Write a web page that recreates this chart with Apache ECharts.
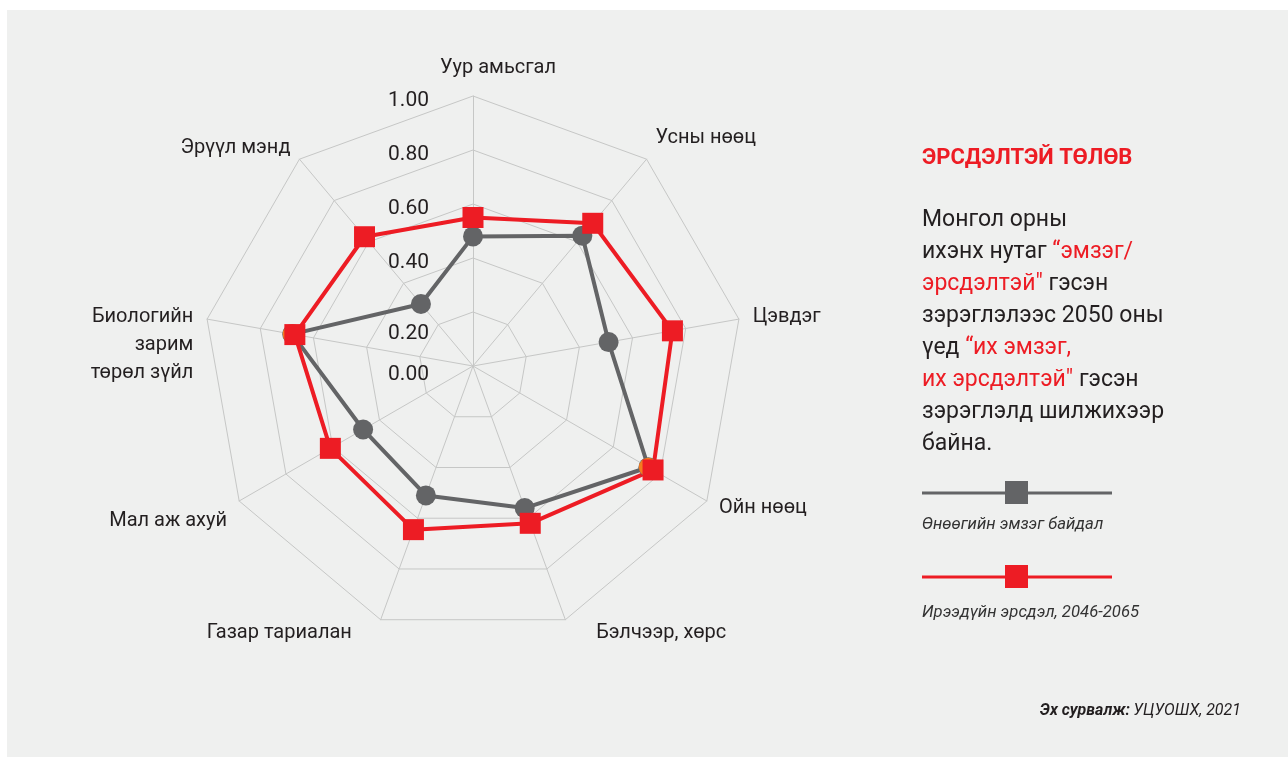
<!DOCTYPE html>
<html>
<head>
<meta charset="utf-8">
<script src="https://cdn.jsdelivr.net/npm/echarts@6/dist/echarts.min.js"></script>
<style>
  html, body { margin: 0; padding: 0; background: #fff; }
  #main { width: 1288px; height: 757px; }
</style>
</head>
<body>
<div id="main"></div>
<script>
// indicators clockwise from the top, as in the picture
const categories = ['Уур амьсгал', 'Усны нөөц', 'Цэвдэг', 'Ойн нөөц', 'Бэлчээр, хөрс', 'Газар тариалан', 'Мал аж ахуй', 'Биологийн\nзарим\nтөрөл зүйл', 'Эрүүл мэнд']
const currentValues = [0.48, 0.63, 0.51, 0.75, 0.56, 0.51, 0.47, 0.68, 0.30]
const futureValues = [0.55, 0.69, 0.75, 0.77, 0.62, 0.645, 0.61, 0.67, 0.625]
const tickLabels = ['0.00', '0.20', '0.40', '0.60', '0.80', '1.00']
const seriesNames = ['Өнөөгийн эмзэг байдал', 'Ирээдүйн эрсдэл, 2046-2065']
// current markers that show orange under the red squares
const orangeCategories = ['Ойн нөөц', 'Биологийн\nзарим\nтөрөл зүйл']

const GRAY = '#636466'
const RED = '#ED1C24'
const ORANGE = '#F47B20'
const TEXT = '#231F20'
const FONT = 'Roboto, "Noto Sans", sans-serif'

// echarts radar runs counter-clockwise, so flip the order after the first one
const order = [0, ...categories.map((_, i) => i).slice(1).reverse()]

// small nudges of the indicator names (padding top/right/bottom/left)
const namePad = {
  0: [0, 0, 0, 50],
  1: [0, 0, 20, 0],
  4: [0, 0, 0, 26],
  5: [0, 24, 0, 0],
  6: [26, 0, 0, 0],
}
const nameRich = {}
Object.keys(namePad).forEach((k) => {
  nameRich['n' + k] = { padding: namePad[k], fontSize: 20, fontFamily: FONT, color: TEXT }
})

const labelStyle = { fontSize: 21, fontFamily: FONT, color: TEXT }

const chart = echarts.init(document.getElementById('main'))

const indicator = order.map((i, k) => {
  const item = { name: categories[i], min: 0, max: 1 }
  if (k === 0) {
    item.axisLabel = {
      show: true,
      margin: 44,
      color: TEXT,
      fontSize: 21,
      fontFamily: FONT,
      formatter: (v) => {
        const s = tickLabels[Math.round(v / 0.2)]
        if (s === '0.20') return `{lo|${s}}`
        if (s === '0.00') return `{z|${s}}`
        return `{n|${s}}`
      },
      rich: {
        n: { ...labelStyle, padding: [10, 0, 0, 0] },
        lo: { ...labelStyle, padding: [44, 0, 0, 0] },
        z: { ...labelStyle, padding: [18, 0, 0, 0] },
      },
    }
  }
  return item
})

const option = {
  backgroundColor: '#fff',
  animation: false,
  radar: {
    center: [473, 366],
    radius: 270,
    startAngle: 90,
    shape: 'polygon',
    splitNumber: 5,
    indicator: indicator,
    axisName: {
      color: TEXT,
      fontSize: 20,
      fontFamily: FONT,
      lineHeight: 28,
      rich: nameRich,
      formatter: (name) => {
        const i = categories.indexOf(name)
        if (namePad[i]) return `{n${i}|${name}}`
        if (name.indexOf('\n') >= 0) return '\n\n' + name
        return name
      },
    },
    nameGap: 14,
    axisLabel: { show: false },
    axisTick: { show: false },
    axisLine: { lineStyle: { color: '#C6C7C6', width: 1 } },
    splitLine: { lineStyle: { color: '#C6C7C6', width: 1 } },
    splitArea: { show: false },
  },
  series: [
    {
      name: seriesNames[0],
      type: 'radar',
      symbol: 'circle',
      symbolSize: 20,
      lineStyle: { color: GRAY, width: 4 },
      itemStyle: { color: GRAY },
      data: [{ name: seriesNames[0], value: order.map((i) => currentValues[i]) }],
    },
    {
      // orange current markers; the other points sit under the red squares
      name: 'orange',
      type: 'radar',
      symbol: 'circle',
      symbolSize: 19,
      lineStyle: { opacity: 0, width: 0 },
      itemStyle: { color: ORANGE },
      data: [
        {
          name: 'orange',
          value: order.map((i) => (orangeCategories.includes(categories[i]) ? currentValues[i] : futureValues[i])),
        },
      ],
    },
    {
      name: seriesNames[1],
      type: 'radar',
      symbol: 'rect',
      symbolSize: 21,
      lineStyle: { color: RED, width: 4 },
      itemStyle: { color: RED },
      data: [{ name: seriesNames[1], value: order.map((i) => futureValues[i]) }],
    },
  ],
  graphic: [
    {
      type: 'rect',
      silent: true,
      z: -10,
      shape: { x: 7, y: 10, width: 1281, height: 747 },
      style: { fill: '#EFF0EF' },
    },
    {
      type: 'text',
      x: 922,
      y: 158,
      style: {
        text: 'ЭРСДЭЛТЭЙ ТӨЛӨВ',
        fill: RED,
        font: 'bold 22px ' + FONT,
        verticalAlign: 'middle',
      },
    },
    {
      type: 'text',
      x: 922,
      y: 204,
      style: {
        text: [
          '{b|Монгол орны}',
          '{b|ихэнх нутаг }{r|“эмзэг/}',
          '{r|эрсдэлтэй"}{b| гэсэн}',
          '{b|зэрэглэлээс 2050 оны}',
          '{b|үед }{r|“их эмзэг,}',
          '{r|их эрсдэлтэй"}{b| гэсэн}',
          '{b|зэрэглэлд шилжихээр}',
          '{b|байна.}',
        ].join('\n'),
        rich: {
          b: { fill: TEXT, fontSize: 23, fontFamily: FONT, lineHeight: 32 },
          r: { fill: RED, fontSize: 23, fontFamily: FONT, lineHeight: 32 },
        },
      },
    },
    // legend: current
    {
      type: 'line',
      shape: { x1: 922, y1: 493, x2: 1112, y2: 493 },
      style: { stroke: GRAY, lineWidth: 3 },
    },
    {
      type: 'rect',
      shape: { x: 1005, y: 481, width: 23, height: 23 },
      style: { fill: GRAY },
    },
    {
      type: 'text',
      x: 922,
      y: 525,
      style: {
        text: seriesNames[0],
        fill: '#333',
        font: 'italic 16.7px ' + FONT,
        verticalAlign: 'middle',
      },
    },
    // legend: future
    {
      type: 'line',
      shape: { x1: 922, y1: 577, x2: 1112, y2: 577 },
      style: { stroke: RED, lineWidth: 3 },
    },
    {
      type: 'rect',
      shape: { x: 1005, y: 565, width: 23, height: 23 },
      style: { fill: RED },
    },
    {
      type: 'text',
      x: 922,
      y: 613,
      style: {
        text: seriesNames[1],
        fill: '#333',
        font: 'italic 16.7px ' + FONT,
        verticalAlign: 'middle',
      },
    },
    {
      type: 'text',
      x: 1241,
      y: 711,
      style: {
        text: '{b|Эх сурвалж:} {n|УЦУОШХ, 2021}',
        align: 'right',
        verticalAlign: 'middle',
        rich: {
          b: { fill: TEXT, fontSize: 16, fontStyle: 'italic', fontWeight: 'bold', fontFamily: FONT },
          n: { fill: TEXT, fontSize: 16, fontStyle: 'italic', fontFamily: FONT },
        },
      },
    },
  ],
}

chart.setOption(option)
</script>
</body>
</html>
